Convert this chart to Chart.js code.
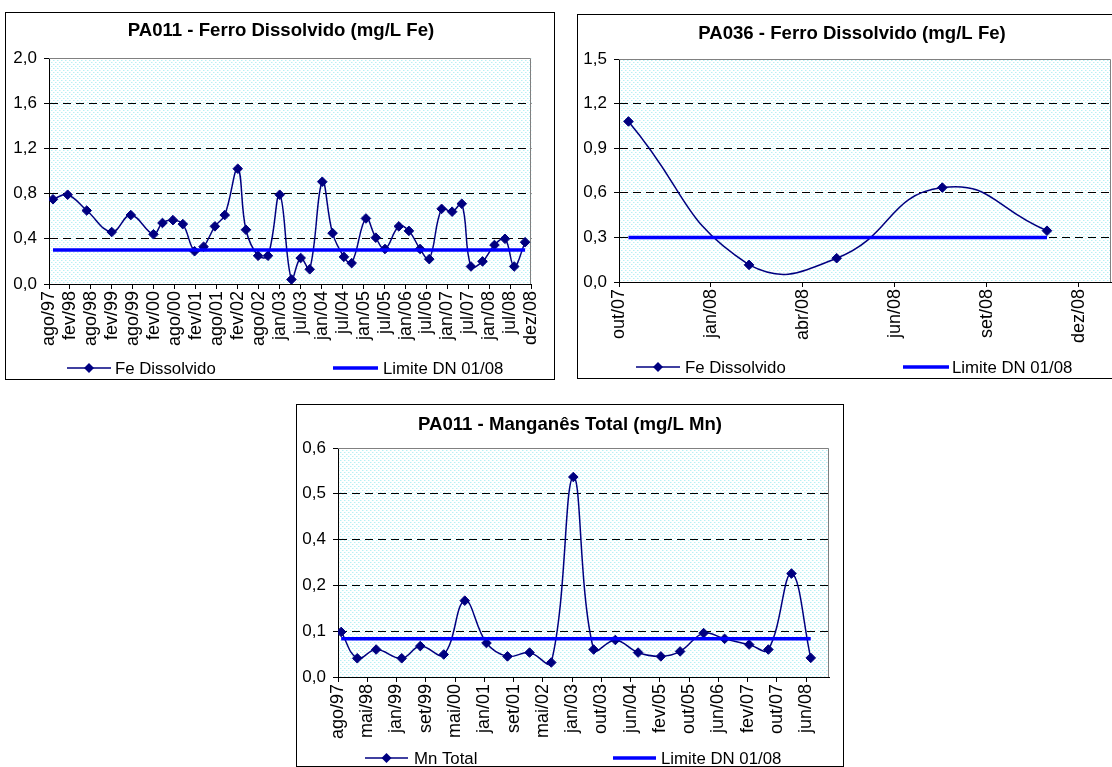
<!DOCTYPE html>
<html><head><meta charset="utf-8">
<script src="https://cdn.jsdelivr.net/npm/chart.js@4"></script>
<style>
html,body{margin:0;padding:0;background:#fff;overflow:hidden;width:1112px;height:767px;position:relative;}
.box{position:absolute;border:1px solid #000;box-sizing:border-box;pointer-events:none;}
canvas{position:absolute;}
</style></head><body>
<canvas id="c1"></canvas><div class="box" id="b1"></div>
<canvas id="c2"></canvas><div class="box" id="b2"></div>
<canvas id="c3"></canvas><div class="box" id="b3"></div>
<script>
// ---------- DATA ----------
// Chart 1: PA011 - Ferro Dissolvido
const fe011Title = 'PA011 - Ferro Dissolvido (mg/L Fe)';
const fe011Labels = ['ago/97','fev/98','ago/98','fev/99','ago/99','fev/00','ago/00','fev/01','ago/01','fev/02','ago/02','jan/03','jul/03','jan/04','jul/04','jan/05','jul/05','jan/06','jul/06','jan/07','jul/07','jan/08','jul/08','dez/08'];
// sample positions along the date axis, in axis-label intervals
const fe011Pos = [0.19,0.89,1.80,2.99,3.90,4.98,5.41,5.91,6.38,6.94,7.37,7.91,8.38,9.00,9.39,9.97,10.44,11.00,11.56,12.00,12.43,13.03,13.52,14.06,14.43,15.11,15.58,16.02,16.68,17.16,17.69,18.13,18.72,19.22,19.68,20.12,20.67,21.24,21.74,22.18,22.70];
const fe011Values = [0.75,0.79,0.65,0.46,0.61,0.44,0.54,0.565,0.53,0.29,0.33,0.51,0.61,1.02,0.48,0.25,0.25,0.79,0.04,0.23,0.13,0.905,0.45,0.24,0.185,0.58,0.41,0.31,0.51,0.47,0.31,0.22,0.665,0.64,0.71,0.155,0.20,0.345,0.40,0.155,0.37];
const fe011Limit = 0.3;
const fe011Legend = ['Fe Dissolvido','Limite DN 01/08'];

// Chart 2: PA036 - Ferro Dissolvido
const fe036Title = 'PA036 - Ferro Dissolvido (mg/L Fe)';
const fe036Labels = ['out/07','jan/08','abr/08','jun/08','set/08','dez/08'];
const fe036Pos = [0.103,1.414,2.367,3.516,4.654];
const fe036Values = [1.08,0.115,0.16,0.635,0.345];
const fe036Limit = 0.3;
const fe036Legend = ['Fe Dissolvido','Limite DN 01/08'];

// Chart 3: PA011 - Manganês Total
const mn011Title = 'PA011 - Manganês Total (mg/L Mn)';
const mn011Labels = ['ago/97','mai/98','jan/99','set/99','mai/00','jan/01','set/01','mai/02','jan/03','out/03','jun/04','fev/05','out/05','jun/06','fev/07','out/07','jun/08'];
const mn011Pos = [0.108,0.658,1.304,2.178,2.812,3.614,4.332,5.074,5.792,6.546,7.288,8.042,8.736,9.478,10.256,11.034,11.692,12.494,13.212,14.05,14.708,15.498,16.156];
const mn011Values = [0.118,0.049,0.072,0.049,0.081,0.059,0.20,0.089,0.054,0.064,0.038,0.524,0.072,0.097,0.064,0.054,0.067,0.115,0.10,0.085,0.072,0.271,0.05];
const mn011Limit = 0.1;
const mn011Legend = ['Mn Total','Limite DN 01/08'];

// ---------- RENDERING ----------
const FONT = '"Liberation Sans", Arial, sans-serif';
Chart.defaults.color = '#000';
Chart.defaults.font.family = FONT;

function makePattern(ctx){
  const c = document.createElement('canvas'); c.width = 4; c.height = 4;
  const g = c.getContext('2d');
  g.fillStyle = '#ffffff'; g.fillRect(0,0,4,4);
  g.fillStyle = '#b8f0f4'; g.fillRect(0,0,1,1); g.fillRect(2,2,1,1);
  g.fillStyle = '#def8fa'; g.fillRect(1,0,1,1); g.fillRect(3,2,1,1);
  return ctx.createPattern(c,'repeat');
}

const deco = {
  id: 'deco',
  beforeDraw(chart, args, o){
    const {ctx, chartArea:a} = chart;
    ctx.save();
    ctx.fillStyle = o.pattern || (o.pattern = makePattern(ctx));
    ctx.fillRect(a.left, a.top, a.right - a.left, a.bottom - a.top);
    ctx.restore();
  },
  beforeDatasetsDraw(chart){
    const {ctx, chartArea:a} = chart;
    ctx.save();
    ctx.strokeStyle = '#808080'; ctx.lineWidth = 1;
    ctx.beginPath();
    ctx.moveTo(a.left, Math.round(a.top) + 0.5);
    ctx.lineTo(Math.round(a.right) - 0.5, Math.round(a.top) + 0.5);
    ctx.lineTo(Math.round(a.right) - 0.5, a.bottom);
    ctx.stroke();
    ctx.restore();
  },
  afterDraw(chart, args, o){
    const ctx = chart.ctx;
    ctx.save();
    ctx.fillStyle = '#000';
    ctx.font = 'bold ' + o.titleSize + 'px ' + FONT;
    ctx.textAlign = 'center'; ctx.textBaseline = 'middle';
    ctx.fillText(o.title, o.titleX, o.titleY);
    // legend
    ctx.font = o.legendSize + 'px ' + FONT;
    ctx.textAlign = 'left';
    const y = o.legendY;
    const it = o.items;
    ctx.strokeStyle = '#000080'; ctx.lineWidth = 1.5;
    ctx.beginPath(); ctx.moveTo(it[0].x1, y); ctx.lineTo(it[0].x2, y); ctx.stroke();
    const m = (it[0].x1 + it[0].x2) / 2, r = 5;
    ctx.fillStyle = '#000080';
    ctx.beginPath(); ctx.moveTo(m, y - r); ctx.lineTo(m + r, y); ctx.lineTo(m, y + r); ctx.lineTo(m - r, y); ctx.closePath(); ctx.fill();
    ctx.fillStyle = '#000';
    ctx.fillText(o.labels[0], it[0].tx, y + 1);
    ctx.strokeStyle = '#0000ff'; ctx.lineWidth = 3.5;
    ctx.beginPath(); ctx.moveTo(it[1].x1, y); ctx.lineTo(it[1].x2, y); ctx.stroke();
    ctx.fillText(o.labels[1], it[1].tx, y + 1);
    ctx.restore();
  }
};

function build(cfg){
  const cv = document.getElementById(cfg.id);
  const bx = document.getElementById(cfg.boxId);
  cv.width = cfg.w; cv.height = cfg.h;
  cv.style.left = cfg.left + 'px'; cv.style.top = cfg.top + 'px';
  cv.style.width = cfg.w + 'px'; cv.style.height = cfg.h + 'px';
  bx.style.left = cfg.left + 'px'; bx.style.top = cfg.top + 'px';
  bx.style.width = cfg.w + 'px'; bx.style.height = cfg.h + 'px';

  const pts = cfg.pos.map((x, i) => ({x: x, y: cfg.values[i]}));
  const lim = [{x: cfg.pos[0], y: cfg.limit}, {x: cfg.pos[cfg.pos.length - 1], y: cfg.limit}];
  const labels = cfg.labels;
  const ymax = cfg.ymax;

  new Chart(cv, {
    type: 'line',
    data: {
      datasets: [
        {label: cfg.legend[1], data: lim, borderColor: '#0000ff', borderWidth: 3.5, pointRadius: 0, tension: 0, order: 0},
        {label: cfg.legend[0], data: pts, borderColor: '#000080', borderWidth: 1.5, tension: cfg.tension,
         pointStyle: 'rectRot', pointRadius: 4.8, pointBackgroundColor: '#000080', pointBorderColor: '#000080', pointBorderWidth: 1, order: 1}
      ]
    },
    options: {
      responsive: false, animation: false, devicePixelRatio: 1,
      layout: {padding: {left: 0, top: cfg.plot.top, right: cfg.w - cfg.plot.right, bottom: 0}},
      plugins: {
        legend: {display: false}, tooltip: {enabled: false}, title: {display: false},
        deco: {title: cfg.title, titleX: cfg.titleX, titleY: cfg.titleY, titleSize: 18.6,
               legendSize: 16.8, legendY: cfg.legendY, items: cfg.items, labels: cfg.legend}
      },
      scales: {
        x: {
          type: 'linear', min: 0, max: cfg.xmax,
          afterBuildTicks: (s) => { s.ticks = labels.map((_, i) => ({value: i})); },
          afterFit: (s) => { s.height = cfg.h - cfg.plot.bottom; },
          ticks: {autoSkip: false, maxRotation: 90, minRotation: 90, padding: 2,
                  font: {size: 18, family: FONT}, color: '#000',
                  callback: (v) => labels[Math.round(v)]},
          grid: {display: true, drawOnChartArea: false, drawTicks: true, tickLength: 5, tickColor: '#000', color: '#000'},
          border: {display: true, color: '#000', width: 1}
        },
        y: {
          min: 0, max: ymax,
          afterFit: (s) => { s.width = cfg.plot.left; },
          ticks: {stepSize: cfg.step, padding: 7, font: {size: 17, family: FONT}, color: '#000',
                  callback: (v) => Number(v).toFixed(1).replace('.', ',')},
          grid: {drawTicks: true, tickLength: 5, tickColor: '#000', lineWidth: 1,
                 color: (c) => (c.tick && (Math.abs(c.tick.value) < 1e-9 || Math.abs(c.tick.value - ymax) < 1e-9)) ? 'rgba(0,0,0,0)' : '#000'},
          border: {display: true, color: '#000', width: 1, dash: [8, 5]}
        }
      }
    },
    plugins: [deco]
  });
}

build({id: 'c1', boxId: 'b1', left: 5, top: 12, w: 550, h: 368,
  plot: {left: 44, top: 46, right: 536, bottom: 272}, tension: 0.4,
  labels: fe011Labels, pos: fe011Pos, values: fe011Values, limit: fe011Limit, xmax: fe011Labels.length - 1,
  ymax: 2.0, step: 0.4, title: fe011Title, titleX: 276, titleY: 19, legend: fe011Legend, legendY: 356,
  items: [{x1: 62, x2: 106, tx: 110}, {x1: 328, x2: 373, tx: 378}]});

build({id: 'c2', boxId: 'b2', left: 577, top: 14, w: 549, h: 365,
  plot: {left: 42, top: 45, right: 534, bottom: 268}, tension: 0.5,
  labels: fe036Labels, pos: fe036Pos, values: fe036Values, limit: fe036Limit, xmax: 5.35,
  ymax: 1.5, step: 0.3, title: fe036Title, titleX: 275, titleY: 20, legend: fe036Legend, legendY: 353,
  items: [{x1: 59, x2: 103, tx: 108}, {x1: 326, x2: 372, tx: 375}]});

build({id: 'c3', boxId: 'b3', left: 296, top: 404, w: 548, h: 363,
  plot: {left: 42, top: 44, right: 533, bottom: 273}, tension: 0.4,
  labels: mn011Labels, pos: mn011Pos, values: mn011Values, limit: mn011Limit, xmax: 16.78,
  ymax: 0.6, step: 0.12, title: mn011Title, titleX: 274, titleY: 21, legend: mn011Legend, legendY: 354,
  items: [{x1: 69, x2: 112, tx: 118}, {x1: 317, x2: 360, tx: 365}]});
</script>
</body></html>
